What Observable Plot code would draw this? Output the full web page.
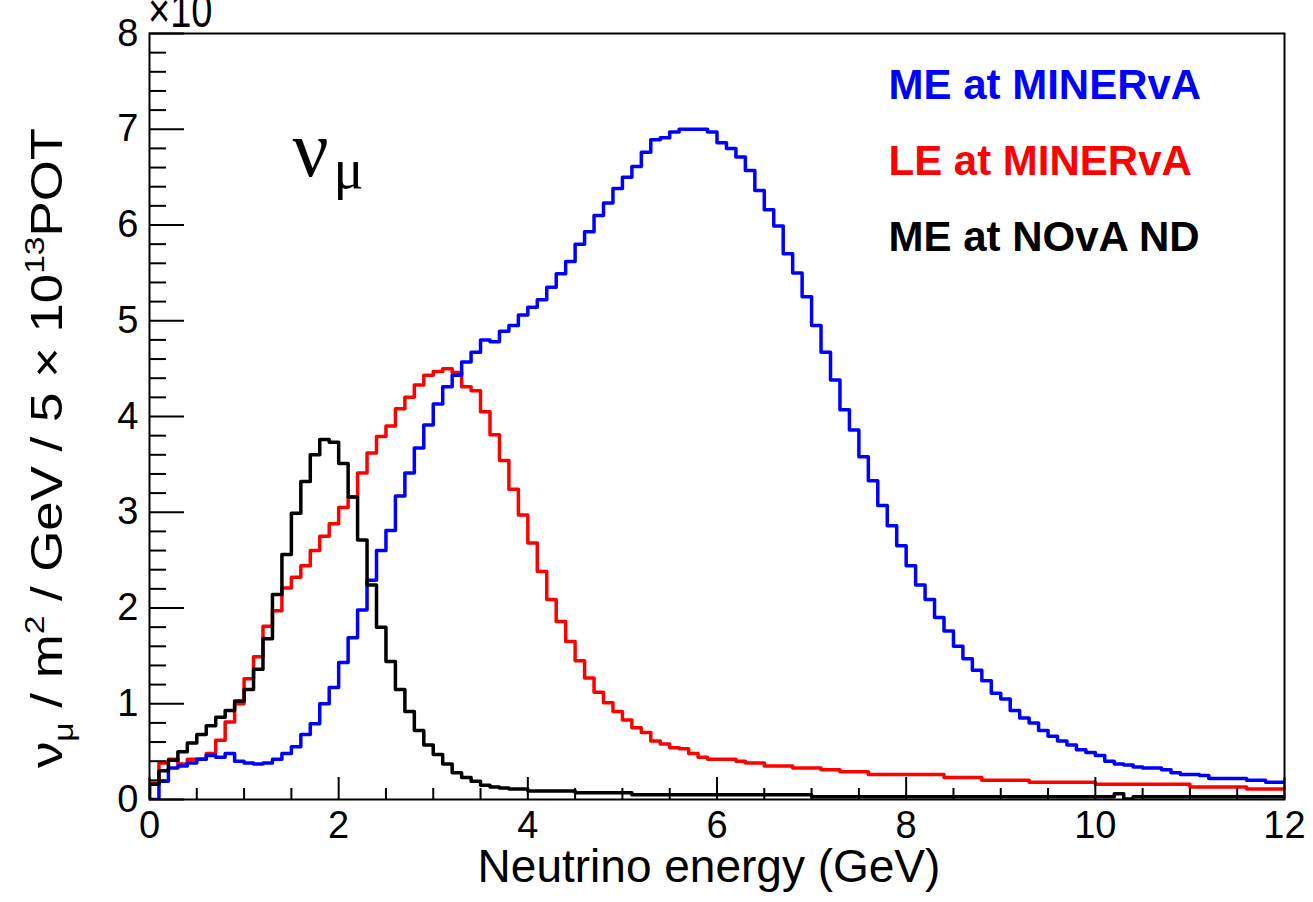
<!DOCTYPE html>
<html>
<head>
<meta charset="utf-8">
<script src="https://cdn.jsdelivr.net/npm/d3@7"></script>
<script src="https://cdn.jsdelivr.net/npm/@observablehq/plot@0.6"></script>
<style>
  html, body { margin: 0; padding: 0; background: #fff; }
  #chart { width: 1313px; height: 902px; overflow: hidden; }
</style>
</head>
<body>
<div id="chart"></div>
<script>
// Muon-neutrino flux spectra, 0.1 GeV bins from 0 to 12 GeV
const binWidth = 0.1;

const seriesNames = ["ME at MINERvA", "LE at MINERvA", "ME at NOvA ND"];
const seriesColors = ["#0000ff", "#ff0000", "#000000"];

// ME beam seen at MINERvA
const meMinerva = [
  0.00, 0.19, 0.33, 0.35, 0.38, 0.42, 0.46, 0.44, 0.48, 0.40,
  0.38, 0.37, 0.38, 0.42, 0.48, 0.55, 0.68, 0.79, 1.00, 1.17,
  1.43, 1.69, 1.98, 2.29, 2.60, 2.81, 3.17, 3.41, 3.67, 3.91,
  4.13, 4.31, 4.43, 4.57, 4.67, 4.80, 4.78, 4.89, 4.95, 5.06,
  5.14, 5.22, 5.35, 5.49, 5.62, 5.80, 5.93, 6.10, 6.23, 6.38,
  6.50, 6.61, 6.76, 6.89, 6.91, 6.97, 7.00, 7.00, 7.00, 6.97,
  6.86, 6.80, 6.71, 6.57, 6.36, 6.16, 5.99, 5.70, 5.50, 5.25,
  4.95, 4.67, 4.38, 4.07, 3.86, 3.58, 3.33, 3.07, 2.86, 2.65,
  2.44, 2.24, 2.09, 1.90, 1.76, 1.60, 1.47, 1.35, 1.24, 1.11,
  1.05, 0.93, 0.85, 0.80, 0.72, 0.66, 0.61, 0.57, 0.52, 0.49,
  0.46, 0.40, 0.37, 0.36, 0.34, 0.33, 0.33, 0.31, 0.28, 0.26,
  0.26, 0.25, 0.22, 0.22, 0.22, 0.22, 0.20, 0.20, 0.18, 0.18
];

// LE beam seen at MINERvA
const leMinerva = [
  0.17, 0.38, 0.42, 0.37, 0.42, 0.42, 0.48, 0.62, 0.81, 1.00,
  1.26, 1.49, 1.81, 1.97, 2.21, 2.32, 2.44, 2.60, 2.75, 2.88,
  3.05, 3.16, 3.41, 3.62, 3.79, 3.90, 4.08, 4.20, 4.33, 4.43,
  4.47, 4.50, 4.46, 4.31, 4.27, 4.05, 3.81, 3.54, 3.24, 2.97,
  2.68, 2.38, 2.09, 1.86, 1.65, 1.45, 1.27, 1.12, 1.01, 0.92,
  0.83, 0.75, 0.70, 0.61, 0.58, 0.54, 0.53, 0.48, 0.44, 0.42,
  0.42, 0.42, 0.40, 0.38, 0.38, 0.35, 0.35, 0.35, 0.33, 0.33,
  0.33, 0.31, 0.31, 0.29, 0.29, 0.29, 0.26, 0.26, 0.26, 0.26,
  0.26, 0.26, 0.26, 0.26, 0.23, 0.23, 0.23, 0.23, 0.20, 0.20,
  0.20, 0.20, 0.20, 0.18, 0.18, 0.18, 0.18, 0.18, 0.18, 0.18,
  0.16, 0.16, 0.16, 0.16, 0.16, 0.16, 0.16, 0.16, 0.16, 0.16,
  0.13, 0.13, 0.13, 0.13, 0.13, 0.13, 0.11, 0.11, 0.11, 0.11
];

// ME beam seen at the NOvA near detector
const meNova = [
  0.16, 0.30, 0.41, 0.50, 0.59, 0.68, 0.77, 0.86, 0.93, 1.03,
  1.15, 1.36, 1.68, 2.14, 2.56, 2.99, 3.32, 3.60, 3.76, 3.73,
  3.51, 3.16, 2.71, 2.24, 1.80, 1.44, 1.15, 0.92, 0.72, 0.57,
  0.47, 0.37, 0.28, 0.23, 0.19, 0.15, 0.13, 0.12, 0.11, 0.11,
  0.09, 0.09, 0.09, 0.09, 0.09, 0.07, 0.07, 0.07, 0.07, 0.07,
  0.07, 0.05, 0.05, 0.05, 0.05, 0.05, 0.05, 0.05, 0.05, 0.05,
  0.05, 0.05, 0.05, 0.05, 0.05, 0.05, 0.05, 0.05, 0.05, 0.05,
  0.03, 0.03, 0.03, 0.03, 0.03, 0.03, 0.03, 0.03, 0.03, 0.03,
  0.03, 0.03, 0.03, 0.03, 0.03, 0.03, 0.03, 0.03, 0.03, 0.03,
  0.03, 0.03, 0.03, 0.03, 0.03, 0.03, 0.03, 0.03, 0.03, 0.03,
  0.03, 0.03, 0.06, 0.005, 0.03, 0.03, 0.03, 0.03, 0.03, 0.03,
  0.03, 0.03, 0.03, 0.03, 0.03, 0.03, 0.03, 0.03, 0.03, 0.03
];

const xTicks = [0, 2, 4, 6, 8, 10, 12];
const yTicks = [0, 1, 2, 3, 4, 5, 6, 7, 8];
const xMinorTicks = d3.range(0, 12.001, 0.5).filter(v => v % 2 !== 0);
const yMinorTicks = d3.range(0, 8.001, 0.2).filter(v => Math.abs(v - Math.round(v)) > 1e-6);

// Histogram outline: start on the baseline, one point per bin low edge, close at the last high edge
function outline(values) {
  const pts = [{e: 0, v: 0}];
  values.forEach((v, i) => pts.push({e: i * binWidth, v}));
  pts.push({e: values.length * binWidth, v: values[values.length - 1]});
  return pts;
}

// drawing order: LE underneath, then ME at MINERvA, NOvA ND on top
const histograms = [
  {values: leMinerva, color: seriesColors[1]},
  {values: meMinerva, color: seriesColors[0]},
  {values: meNova, color: seriesColors[2]}
];

const sans = "'Liberation Sans', Arial, Helvetica, sans-serif";
const serif = "'Liberation Serif', 'Times New Roman', serif";

const chart = Plot.plot({
  width: 1313,
  height: 902,
  marginLeft: 149,
  marginRight: 29,
  marginTop: 33,
  marginBottom: 103,
  style: {fontFamily: sans, fontSize: "38px", background: "#fff", color: "#000"},
  x: {domain: [0, 12]},
  y: {domain: [0, 8]},
  marks: [
    // histogram outlines
    ...histograms.map(h => Plot.line(outline(h.values), {
      x: "e", y: "v", curve: "step-after", stroke: h.color, strokeWidth: 3.5, clip: true
    })),
    // inward ticks
    Plot.axisY(yTicks, {tickSize: 35, dx: 35, fill: "none", strokeWidth: 2, label: null}),
    Plot.axisY(yMinorTicks, {tickSize: 17, dx: 17, fill: "none", strokeWidth: 2, label: null}),
    Plot.axisX(xTicks, {tickSize: 22, dy: -22, fill: "none", strokeWidth: 2, label: null}),
    Plot.axisX(xMinorTicks, {tickSize: 11, dy: -11, fill: "none", strokeWidth: 2, label: null}),
    // tick labels
    Plot.axisY(yTicks, {tickSize: 0, tickPadding: 11, tickFormat: d => String(d), label: null}),
    Plot.axisX(xTicks, {tickSize: 0, tickPadding: 12, tickFormat: d => String(d), label: null}),
    Plot.frame({stroke: "#000", strokeWidth: 2}),
    // nu_mu annotation
    Plot.text(["ν"], {text: d => d, frameAnchor: "top-left", dx: 143, dy: 142,
      textAnchor: "start", lineAnchor: "bottom", fontSize: 80, fontFamily: serif}),
    Plot.text(["μ"], {text: d => d, frameAnchor: "top-left", dx: 184, dy: 154,
      textAnchor: "start", lineAnchor: "bottom", fontSize: 56, fontFamily: serif}),
    // legend entries
    ...seriesNames.map((name, i) => Plot.text([name], {
      text: d => d, frameAnchor: "top-left", dx: 739, dy: 65 + i * 76,
      textAnchor: "start", lineAnchor: "bottom", fontSize: 42, fontWeight: "bold",
      fontFamily: sans, fill: seriesColors[i]
    }))
  ]
});

const svg = d3.select(chart);

// exponent marker above the y axis (runs off the top edge)
svg.append("text")
  .attr("transform", "translate(148,27) scale(1,1.25)")
  .attr("text-anchor", "start")
  .attr("font-family", sans).attr("font-size", 38).attr("fill", "#000")
  .text("×10");

// x-axis title
svg.append("text")
  .attr("x", 709).attr("y", 882)
  .attr("text-anchor", "middle")
  .attr("font-family", sans).attr("font-size", 46).attr("fill", "#000")
  .text("Neutrino energy (GeV)");

// y-axis title with sub/superscripts
const yTitle = svg.append("text")
  .attr("transform", "translate(62,128) rotate(-90) scale(1.2,1)")
  .attr("text-anchor", "end")
  .attr("font-family", sans).attr("font-size", 44).attr("fill", "#000");
const parts = [
  {t: "ν", dy: 0, size: 44},
  {t: "μ", dy: 11, size: 28},
  {t: " / m", dy: -11, size: 44},
  {t: "2", dy: -18, size: 28},
  {t: " / GeV / 5 × 10", dy: 18, size: 44},
  {t: "13", dy: -18, size: 28},
  {t: "POT", dy: 18, size: 44}
];
parts.forEach(p => yTitle.append("tspan").attr("dy", p.dy).attr("font-size", p.size).text(p.t));

document.getElementById("chart").appendChild(chart);
</script>
</body>
</html>
